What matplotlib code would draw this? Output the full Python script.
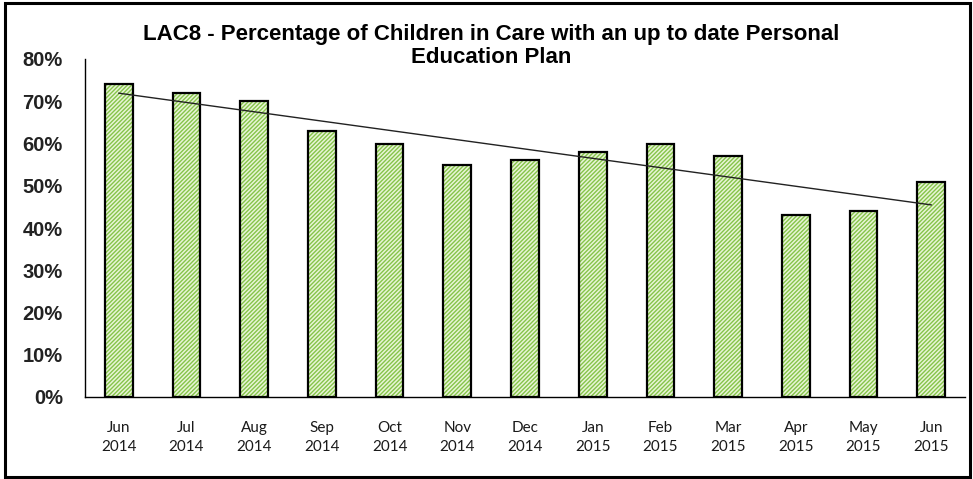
import numpy as np
import matplotlib.pyplot as plt
from matplotlib.patches import Rectangle

months = ['Jun\n2014', 'Jul\n2014', 'Aug\n2014', 'Sep\n2014', 'Oct\n2014', 'Nov\n2014',
          'Dec\n2014', 'Jan\n2015', 'Feb\n2015', 'Mar\n2015', 'Apr\n2015', 'May\n2015',
          'Jun\n2015']
pct = [74, 72, 70, 63, 60, 55, 56, 58, 60, 57, 43, 44, 51]
yticks = [0, 10, 20, 30, 40, 50, 60, 70, 80]

W, H = 973, 479
fig = plt.figure(figsize=(W/100, H/100), dpi=100)
ax = fig.add_axes([85/W, 1-397/H, 880/W, 338/H])

x = np.arange(len(months))
y = np.array(pct) / 100

# hatched fill, then black outline on top
ax.bar(x, y, width=0.41, color='#e8f5d6', edgecolor='#86c44a', hatch='////////', linewidth=0)
ax.bar(x, y, width=0.41, fill=False, edgecolor='black', linewidth=1.6)

# linear trendline
k, b = np.polyfit(x, y, 1)
ax.plot(x, k*x + b, color='#222222', lw=1)

ax.set_xlim(-0.5, len(months) - 0.5)
ax.set_ylim(0, 0.8)
ax.set_yticks([v/100 for v in yticks])
ax.set_yticklabels(['%d%%' % v for v in yticks], fontsize=14.5, fontweight='bold',
                   family='Liberation Sans', color='#222222')
ax.set_xticks(x)
ax.set_xticklabels(months, fontsize=11, family='Lato', color='#1a1a1a',
                   linespacing=1.45)
ax.tick_params(axis='both', length=0)
ax.tick_params(axis='x', pad=17)
ax.tick_params(axis='y', pad=16)
for s in ['top', 'right']:
    ax.spines[s].set_visible(False)
ax.spines['left'].set_linewidth(1)
ax.spines['bottom'].set_linewidth(1)

fig.text(491/W, 1-46/H, 'LAC8 - Percentage of Children in Care with an up to date Personal\nEducation Plan',
         ha='center', va='center', fontsize=16, fontweight='bold', family='Liberation Sans',
         linespacing=1.1)

fig.patches.append(Rectangle((5/W, 2/H), 965/W, 474/H, transform=fig.transFigure,
                             fill=False, edgecolor='black', lw=2.2))

plt.savefig('out.png', dpi=100)
